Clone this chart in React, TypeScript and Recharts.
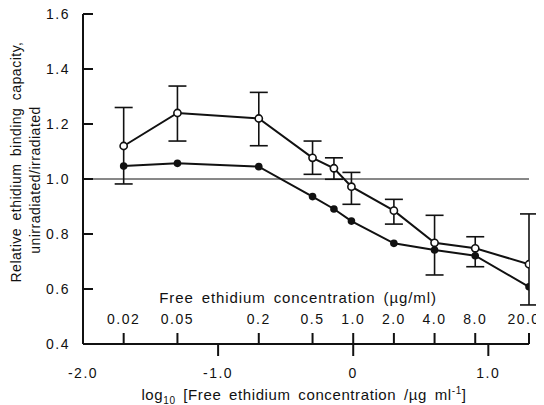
import { ComposedChart, Line, XAxis, YAxis, ErrorBar, ReferenceLine } from 'recharts';

// free ethidium concentration (µg/ml) of each measurement
const concentrations = [0.02, 0.05, 0.2, 0.5, 0.72, 0.97, 2.0, 4.0, 8.0, 20.0];
// open circles, with their error bar ends
const openValues = [1.12, 1.24, 1.22, 1.077, 1.039, 0.972, 0.885, 0.768, 0.748, 0.69];
const openErrTop = [1.26, 1.338, 1.315, 1.138, 1.077, 1.024, 0.926, 0.868, 0.79, 0.873];
const openErrBottom = [0.982, 1.138, 1.121, 1.017, 0.999, 0.908, 0.836, 0.651, 0.681, 0.542];
// filled circles
const filledValues = [1.047, 1.057, 1.045, 0.936, 0.891, 0.847, 0.766, 0.742, 0.721, 0.608];

const concTicks = [0.02, 0.05, 0.2, 0.5, 1.0, 2.0, 4.0, 8.0, 20.0];
const concTickLabels = ['0.02', '0.05', '0.2', '0.5', '1.0', '2.0', '4.0', '8.0', '20.0'];
const logTicks = [-2, -1, 0, 1];
const logTickLabels = ['-2.0', '-1.0', '0', '1.0'];
const yTicks = [0.4, 0.6, 0.8, 1.0, 1.2, 1.4, 1.6];

const FONT = '"Liberation Sans", Arial, sans-serif';
const INK = '#111';

const rows = concentrations.map((c, i) => ({
  x: Math.log10(c),
  open: openValues[i],
  openErr: [openValues[i] - openErrBottom[i], openErrTop[i] - openValues[i]],
  filled: filledValues[i],
}));

const xDomain = [-2, Math.log10(20)];

const YTick = ({ x, y, payload }: any) => (
  <g>
    <line x1={x + 13} x2={x + 23} y1={y} y2={y} stroke={INK} strokeWidth={2} />
    <text x={x} y={y} dy={5} textAnchor="end" fontSize={14} letterSpacing={1.5} fontFamily={FONT} fill={INK}>
      {payload.value.toFixed(1)}
    </text>
  </g>
);

const LogTick = ({ x, y, payload }: any) => {
  const i = logTicks.indexOf(payload.value);
  return (
    <g>
      {payload.value !== -2 && (
        <line x1={x} x2={x} y1={y - 24} y2={y - 12} stroke={INK} strokeWidth={2} />
      )}
      <text x={x} y={y} dy={10} textAnchor="middle" fontSize={14} letterSpacing={1.5} fontFamily={FONT} fill={INK}>
        {logTickLabels[i]}
      </text>
    </g>
  );
};

const ConcTick = ({ x, y, payload }: any) => {
  const i = concTicks.findIndex((c) => Math.abs(Math.log10(c) - payload.value) < 1e-6);
  // the last label sits a little left of its tick so it stays on the page
  const shift = i === concTicks.length - 1 ? -5 : 0;
  return (
    <g>
      <line x1={x} x2={x} y1={y + 9} y2={y + 20} stroke={INK} strokeWidth={2} />
      <text x={x + shift} y={y} textAnchor="middle" fontSize={14} letterSpacing={1.5} fontFamily={FONT} fill={INK}>
        {concTickLabels[i]}
      </text>
    </g>
  );
};

const YTitle = ({ viewBox }: any) => {
  const c1x = viewBox.x - 7;
  const c1y = viewBox.y + viewBox.height / 2 - 17;
  const c2x = viewBox.x + 12;
  const c2y = viewBox.y + viewBox.height / 2 + 1;
  return (
    <g fontFamily={FONT} fill={INK} fontSize={14}>
      <text x={c1x} y={c1y} transform={`rotate(-90 ${c1x} ${c1y})`} textAnchor="middle" dominantBaseline="central" letterSpacing={0.5} wordSpacing={3}>
        Relative ethidium binding capacity,
      </text>
      <text x={c2x} y={c2y} transform={`rotate(-90 ${c2x} ${c2y})`} textAnchor="middle" dominantBaseline="central" letterSpacing={0.5}>
        unirradiated/irradiated
      </text>
    </g>
  );
};

const LogTitle = ({ viewBox }: any) => {
  const cx = viewBox.x + viewBox.width / 2 - 2;
  const cy = viewBox.y + 56;
  return (
    <text x={cx} y={cy} textAnchor="middle" fontSize={15} fontFamily={FONT} fill={INK} letterSpacing={0.6} wordSpacing={3}>
      log<tspan dy={4} fontSize={10}>10</tspan>
      <tspan dy={-4}> [Free ethidium concentration /µg ml</tspan>
      <tspan dy={-6} fontSize={10}>-1</tspan>
      <tspan dy={6}>]</tspan>
    </text>
  );
};

const ConcTitle = ({ viewBox }: any) => {
  const cx = viewBox.x + viewBox.width / 2 - 8;
  const cy = viewBox.y + viewBox.height - 41;
  return (
    <text x={cx} y={cy} textAnchor="middle" fontSize={15} fontFamily={FONT} fill={INK} letterSpacing={0.9} wordSpacing={3}>
      Free ethidium concentration (µg/ml)
    </text>
  );
};

const OpenDot = ({ cx, cy }: any) => (
  <circle cx={cx} cy={cy} r={3.6} fill="#fff" stroke={INK} strokeWidth={1.6} />
);

const FilledDot = ({ cx, cy }: any) => <circle cx={cx} cy={cy} r={3.8} fill={INK} />;

export default function App() {
  return (
    <div style={{ width: 544, height: 405, margin: '-8px 0 0 -8px' }}>
      <ComposedChart width={544} height={405} data={rows} margin={{ top: 14, right: 15, bottom: 21, left: 23 }}>
        <YAxis
          type="number"
          domain={[0.4, 1.6]}
          ticks={yTicks}
          width={60}
          tickSize={0}
          tickMargin={13}
          tickLine={false}
          axisLine={{ stroke: INK, strokeWidth: 2 }}
          tick={<YTick />}
          label={{ content: <YTitle /> }}
          interval={0}
        />
        <XAxis
          xAxisId="log"
          dataKey="x"
          type="number"
          domain={xDomain}
          ticks={logTicks}
          height={40}
          tickSize={12}
          tickMargin={12}
          tickLine={false}
          axisLine={{ stroke: INK, strokeWidth: 2 }}
          tick={<LogTick />}
          label={{ content: <LogTitle /> }}
          interval={0}
          allowDataOverflow
        />
        <XAxis
          xAxisId="conc"
          dataKey="x"
          type="number"
          domain={xDomain}
          ticks={concTicks.map((c) => Math.log10(c))}
          mirror
          height={30}
          tickSize={11}
          tickMargin={9}
          tickLine={false}
          axisLine={false}
          tick={<ConcTick />}
          label={{ content: <ConcTitle /> }}
          interval={0}
          allowDataOverflow
        />
        <ReferenceLine xAxisId="log" y={1} stroke={INK} strokeWidth={1} />
        <Line
          xAxisId="log"
          dataKey="filled"
          stroke={INK}
          strokeWidth={2}
          dot={<FilledDot />}
          isAnimationActive={false}
        />
        <Line
          xAxisId="log"
          dataKey="open"
          stroke={INK}
          strokeWidth={2}
          dot={<OpenDot />}
          isAnimationActive={false}
        >
          <ErrorBar dataKey="openErr" width={9} stroke={INK} strokeWidth={1.6} direction="y" />
        </Line>
      </ComposedChart>
    </div>
  );
}
